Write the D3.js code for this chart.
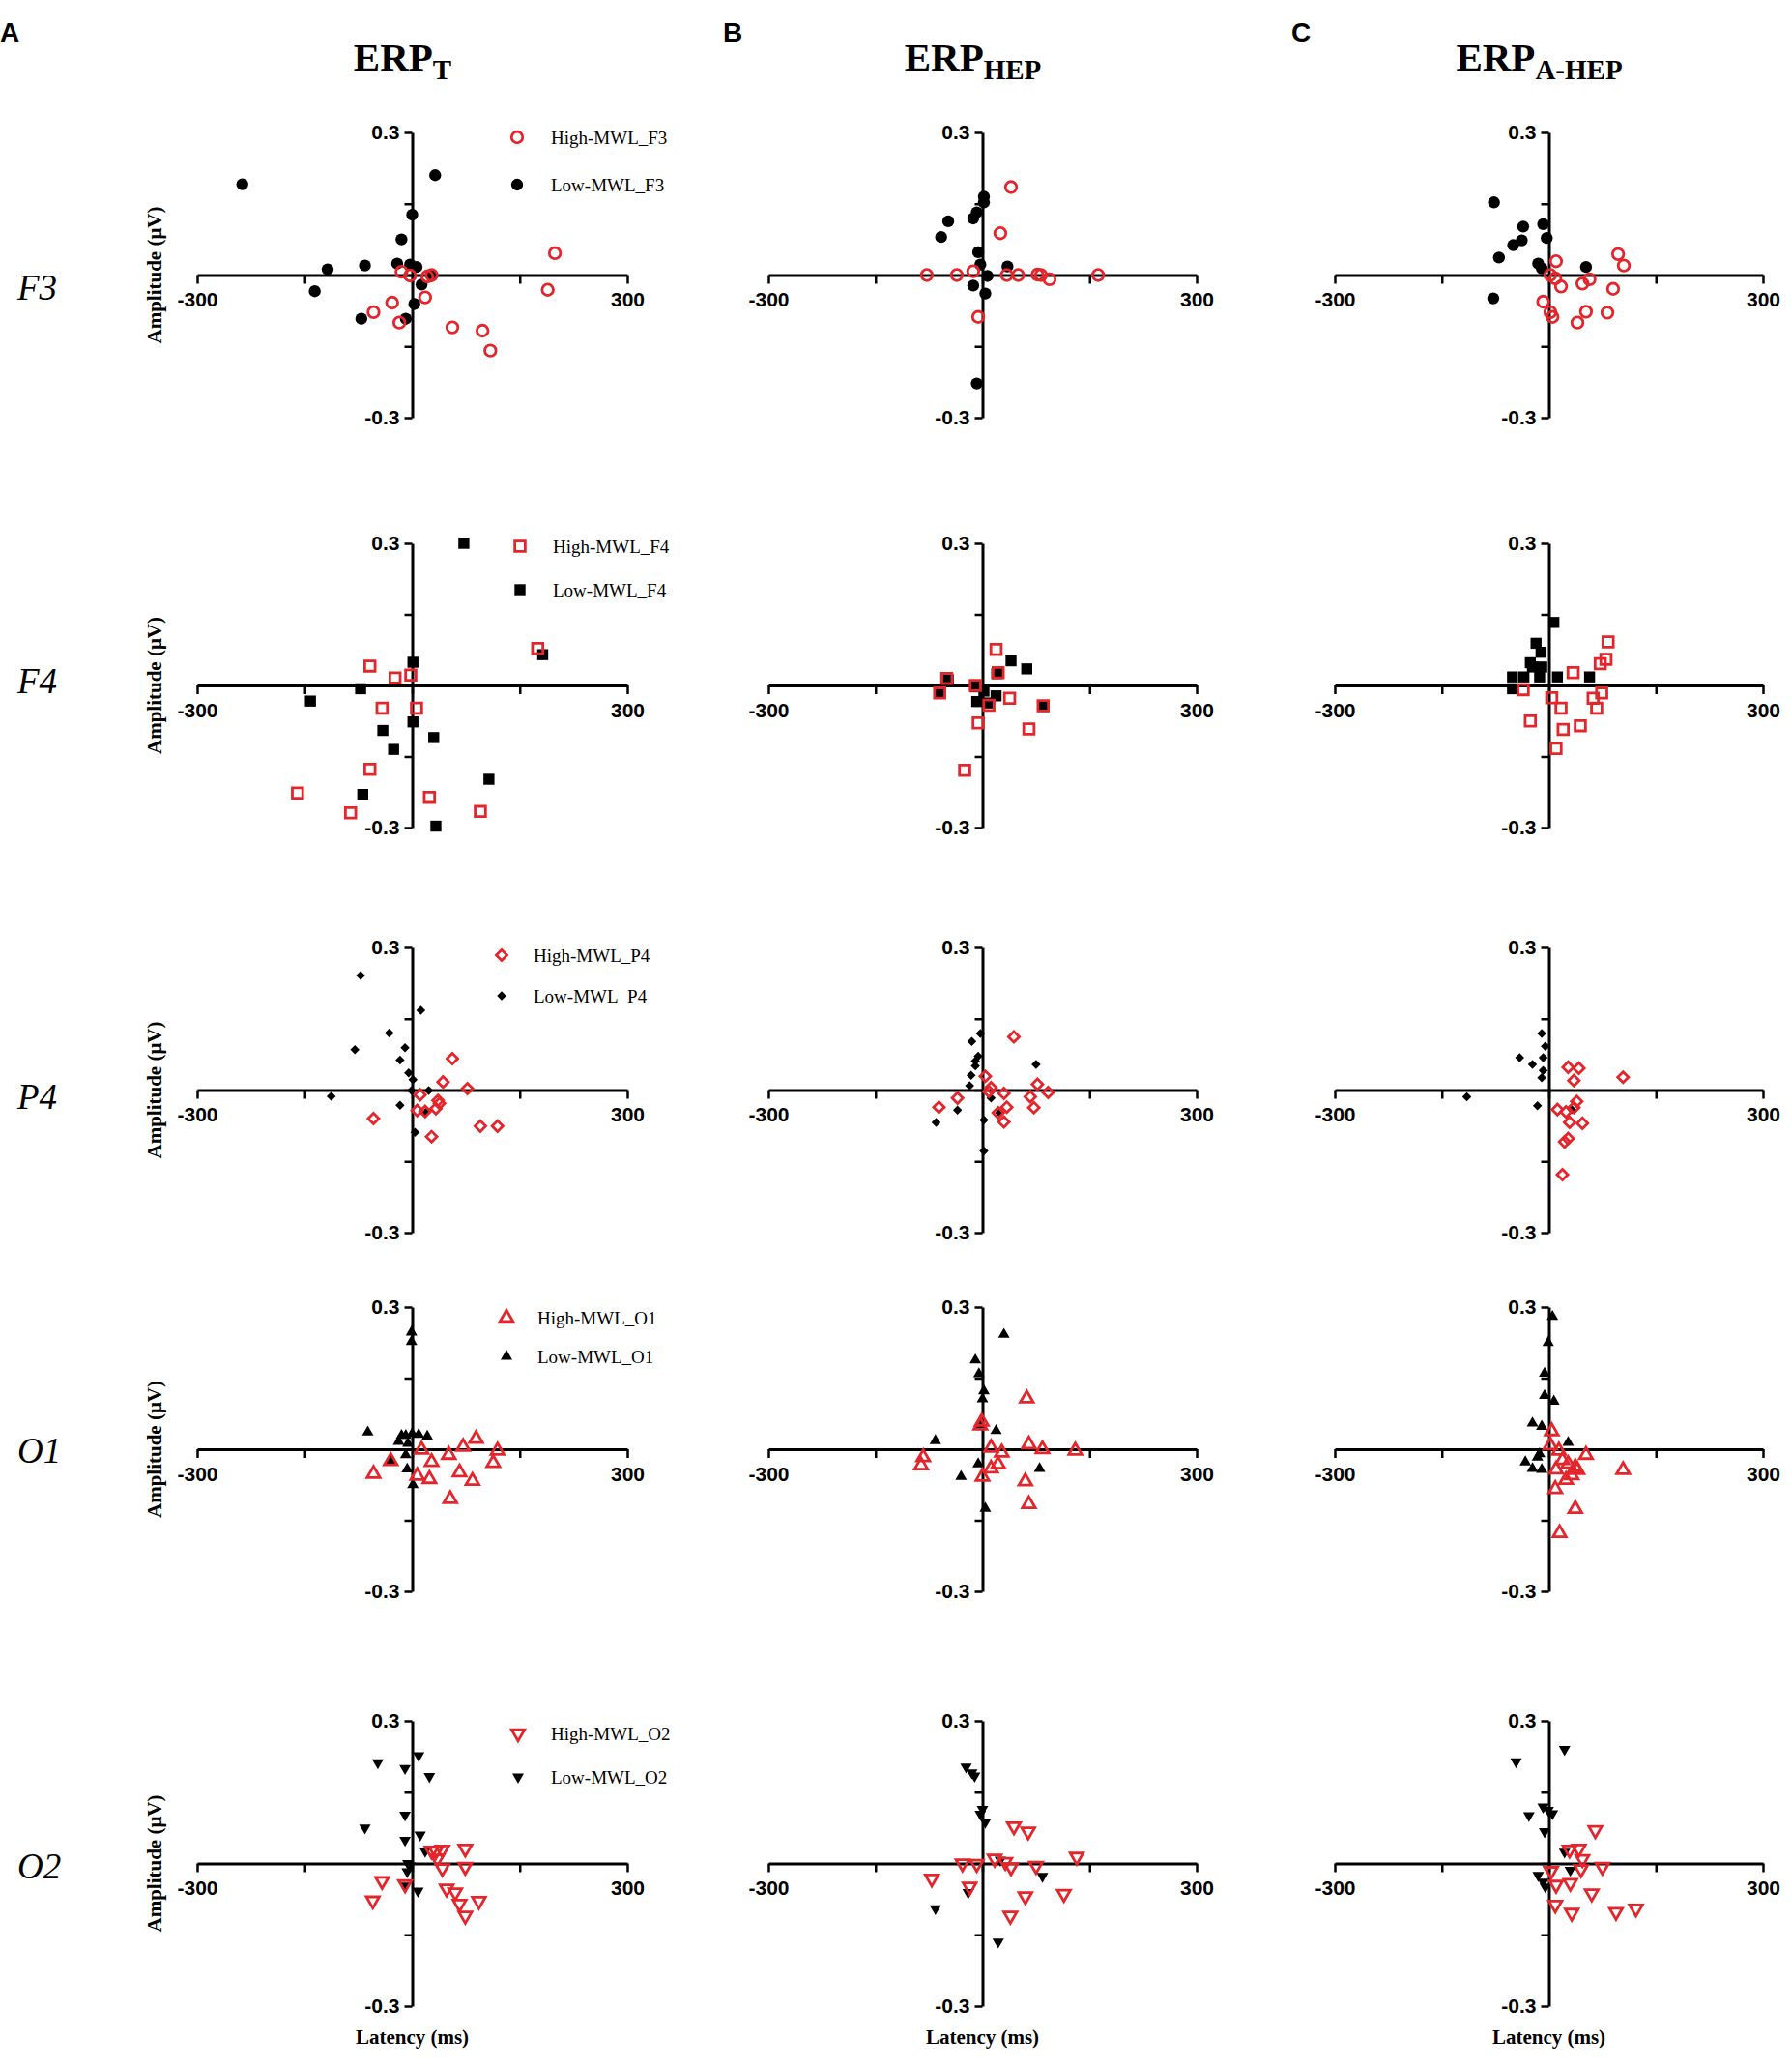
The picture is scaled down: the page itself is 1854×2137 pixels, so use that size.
<!DOCTYPE html>
<html>
<head>
<meta charset="utf-8">
<script src="https://cdn.jsdelivr.net/npm/d3@7"></script>
<style>
  body { margin: 0; background: #fff; }
  svg { display: block; }
</style>
</head>
<body>
<script>
// electrodes (rows) and ERP types (columns)
var electrodes = ["F3", "F4", "P4", "O1", "O2"];
var erpTypes = ["T", "HEP", "A-HEP"];
var panelLetters = ["A", "B", "C"];
var xTicks = [-300, -150, 0, 150, 300];
var yTicks = [-0.3, -0.15, 0, 0.15, 0.3];
var xTickLabels = [-300, 300];
var yTickLabels = [0.3, -0.3];

// [latency (ms), amplitude (uV)]
var F3_T_high = [[199,0.046],[189,-0.031],[-15,0.007],[-3,-0.001],[21,-0.003],[27,0],[18,-0.047],[-28,-0.058],[-54,-0.078],[-18,-0.1],[56,-0.11],[98,-0.117],[109,-0.159]];
var F3_T_low = [[-237,0.191],[32,0.21],[0,0.127],[-15,0.075],[-118,0.012],[-66,0.02],[-21,0.024],[-3,0.022],[6,0.017],[-136,-0.034],[-71,-0.092],[-9,-0.092],[3,-0.061],[13,-0.02],[27,-0.002]];
var F3_HEP_high = [[40,0.185],[25,0.088],[-78,0],[-36,0],[-13,0.008],[34,0],[50,0],[77,0.001],[82,0],[94,-0.009],[162,0],[-6,-0.088]];
var F3_HEP_low = [[2,0.165],[2,0.153],[-8,0.132],[-13,0.119],[-48,0.113],[-58,0.08],[-6,0.048],[-3,0.022],[35,0.018],[7,-0.002],[-13,-0.022],[4,-0.039],[-8,-0.228]];
var F3_AHEP_high = [[10,0.029],[97,0.044],[105,0.02],[2,0],[9,-0.007],[17,-0.024],[47,-0.018],[57,-0.009],[90,-0.029],[-8,-0.056],[2,-0.078],[5,-0.088],[52,-0.077],[82,-0.079],[40,-0.1]];
var F3_AHEP_low = [[-77,0.153],[-36,0.102],[-8,0.107],[-3,0.078],[-38,0.073],[-50,0.063],[-70,0.037],[-15,0.024],[-10,0.014],[52,0.017],[-78,-0.049]];

var F4_T_high = [[175,0.078],[-59,0.041],[-24,0.016],[-2,0.022],[-42,-0.048],[6,-0.048],[-59,-0.177],[-160,-0.227],[24,-0.236],[-86,-0.269],[95,-0.266]];
var F4_T_low = [[72,0.3],[182,0.065],[1,0.049],[-72,-0.007],[-142,-0.033],[1,-0.077],[-41,-0.095],[30,-0.11],[-26,-0.135],[107,-0.198],[-69,-0.23],[33,-0.297]];
var F4_HEP_high = [[19,0.076],[-50,0.015],[-60,-0.016],[-10,0],[22,0.027],[38,-0.027],[9,-0.042],[-6,-0.079],[65,-0.092],[-25,-0.179],[85,-0.043]];
var F4_HEP_low = [[-48,0.012],[-60,-0.017],[-10,-0.003],[-8,-0.034],[20,0.025],[40,0.052],[62,0.035],[7,-0.037],[19,-0.022],[85,-0.044],[2,-0.012]];
var F4_AHEP_high = [[83,0.092],[80,0.055],[72,0.046],[34,0.027],[-36,-0.009],[4,-0.026],[17,-0.048],[62,-0.027],[74,-0.016],[67,-0.048],[-26,-0.075],[20,-0.093],[44,-0.085],[10,-0.133]];
var F4_AHEP_low = [[7,0.133],[-18,0.089],[-11,0.07],[-26,0.048],[-10,0.039],[-51,0.018],[-51,-0.007],[-35,0.018],[-13,0.018],[12,0.018],[57,0.018],[-23,0.039]];

var P4_T_high = [[56,0.066],[43,0.017],[77,0.003],[11,-0.01],[36,-0.022],[38,-0.028],[33,-0.039],[7,-0.043],[18,-0.045],[-54,-0.06],[95,-0.076],[119,-0.076],[27,-0.098]];
var P4_T_low = [[-72,0.241],[12,0.168],[-32,0.12],[-80,0.085],[-10,0.089],[-17,0.063],[-5,0.036],[1,0.022],[-1,-0.001],[23,-0.001],[-113,-0.013],[-17,-0.032],[19,-0.047],[4,-0.089]];
var P4_HEP_high = [[44,0.112],[4,0.029],[12,0.005],[9,-0.003],[30,-0.007],[77,0.012],[92,-0.005],[67,-0.014],[72,-0.037],[-35,-0.017],[-61,-0.036],[34,-0.036],[22,-0.048],[30,-0.067]];
var P4_HEP_low = [[-3,0.119],[-15,0.102],[-10,0.061],[-6,0.071],[-10,0.051],[75,0.054],[-16,0.031],[-18,0.009],[12,-0.017],[-35,-0.042],[-65,-0.068],[2,-0.063],[24,-0.048],[2,-0.128]];
var P4_AHEP_high = [[27,0.048],[42,0.046],[104,0.027],[35,0.02],[39,-0.024],[12,-0.041],[24,-0.046],[35,-0.037],[29,-0.068],[47,-0.07],[27,-0.102],[22,-0.109],[19,-0.178]];
var P4_AHEP_low = [[-10,0.119],[-5,0.092],[-41,0.068],[-8,0.068],[-23,0.054],[-8,0.041],[-10,0.026],[-115,-0.014],[-16,-0.033],[32,-0.041]];

var O1_T_high = [[89,0.022],[71,0.005],[13,-0.001],[119,-0.003],[51,-0.012],[27,-0.027],[-30,-0.025],[113,-0.029],[-54,-0.052],[7,-0.056],[24,-0.063],[66,-0.049],[84,-0.067],[53,-0.105]];
var O1_T_low = [[-1,0.247],[-1,0.227],[-62,0.036],[-15,0.029],[-9,0.029],[0,0.033],[9,0.031],[21,0.027],[-19,0.016],[-6,0.012],[-9,-0.012],[-30,-0.025],[-7,-0.042],[1,-0.075]];
var O1_HEP_high = [[62,0.107],[-1,0.058],[-3,0.05],[-83,-0.017],[-86,-0.034],[12,0.003],[27,-0.007],[65,0.01],[84,0],[130,-0.003],[22,-0.032],[12,-0.041],[0,-0.058],[60,-0.068],[65,-0.116]];
var O1_HEP_low = [[30,0.242],[-10,0.188],[-5,0.159],[2,0.123],[0,0.106],[-3,0.051],[19,0.039],[-66,0.018],[-6,-0.031],[-30,-0.058],[80,-0.041],[4,-0.125]];
var O1_AHEP_high = [[4,0.038],[2,0.008],[14,-0.003],[52,-0.012],[19,-0.023],[27,-0.031],[37,-0.038],[10,-0.043],[40,-0.044],[104,-0.044],[32,-0.055],[24,-0.065],[9,-0.084],[37,-0.126],[15,-0.177]];
var O1_AHEP_low = [[5,0.28],[-1,0.225],[-6,0.16],[-6,0.113],[7,0.101],[-23,0.055],[-10,0.048],[27,0.014],[-13,-0.01],[-16,-0.017],[-33,-0.027],[-23,-0.041],[-10,-0.043]];

var O2_T_high = [[27,0.027],[33,0.026],[42,0.029],[74,0.031],[35,0.01],[42,-0.01],[74,-0.007],[-42,-0.037],[-10,-0.044],[48,-0.053],[60,-0.061],[93,-0.079],[-55,-0.078],[66,-0.085],[74,-0.11]];
var O2_T_low = [[9,0.227],[-48,0.212],[-10,0.2],[24,0.183],[-10,0.102],[-66,0.075],[11,0.06],[-10,0.049],[18,0.026],[-6,0],[-3,-0.005],[-7,-0.017],[8,-0.058],[-9,-0.047]];
var O2_HEP_high = [[44,0.078],[64,0.067],[132,0.014],[17,0.01],[32,0.003],[-28,0],[-8,-0.001],[40,-0.008],[75,-0.005],[-71,-0.032],[-18,-0.049],[60,-0.069],[114,-0.064],[39,-0.11]];
var O2_HEP_low = [[-23,0.203],[-15,0.191],[-11,0.184],[0,0.114],[-3,0.104],[4,0.087],[25,0.007],[84,-0.027],[-20,-0.061],[-66,-0.095],[22,-0.165]];
var O2_AHEP_high = [[65,0.07],[29,0.029],[42,0.031],[47,0.009],[45,-0.012],[75,-0.007],[3,-0.016],[10,-0.045],[30,-0.041],[60,-0.063],[9,-0.087],[32,-0.104],[94,-0.102],[122,-0.095]];
var O2_AHEP_low = [[22,0.24],[-46,0.214],[-8,0.119],[-1,0.112],[5,0.105],[-28,0.101],[-6,0.067],[22,0.024],[30,-0.014],[-15,-0.025],[-8,-0.039],[-5,-0.049]];

var seriesData = {
  F3: [[F3_T_high, F3_T_low], [F3_HEP_high, F3_HEP_low], [F3_AHEP_high, F3_AHEP_low]],
  F4: [[F4_T_high, F4_T_low], [F4_HEP_high, F4_HEP_low], [F4_AHEP_high, F4_AHEP_low]],
  P4: [[P4_T_high, P4_T_low], [P4_HEP_high, P4_HEP_low], [P4_AHEP_high, P4_AHEP_low]],
  O1: [[O1_T_high, O1_T_low], [O1_HEP_high, O1_HEP_low], [O1_AHEP_high, O1_AHEP_low]],
  O2: [[O2_T_high, O2_T_low], [O2_HEP_high, O2_HEP_low], [O2_AHEP_high, O2_AHEP_low]]
};

var W = 1854, H = 2137;
var RED = "#e3262c";

// layout
var cols = [{x0: 204, x1: 649}, {x0: 795, x1: 1238}, {x0: 1381, x1: 1824}];
var rows = [{y0: 137, y1: 432}, {y0: 562, y1: 856}, {y0: 980, y1: 1275}, {y0: 1352, y1: 1646}, {y0: 1780, y1: 2075}];
var rowLabelDy = [25, 8, 19, 14, 15];
var legendPos = [
  {mx: 535, tx: 570, y1: 142, y2: 191},
  {mx: 538, tx: 572, y1: 565, y2: 610},
  {mx: 519, tx: 552, y1: 988, y2: 1030},
  {mx: 524, tx: 556, y1: 1363, y2: 1403},
  {mx: 536, tx: 570, y1: 1793, y2: 1838}
];

// marker per electrode
var shapes = {
  F3: {type: d3.symbolCircle, hi: 105, lo: 120, rot: 0},
  F4: {type: d3.symbolSquare, hi: 115, lo: 130, rot: 0},
  P4: {type: d3.symbolSquare, hi: 62, lo: 45, rot: 45},
  O1: {type: d3.symbolTriangle, hi: 78, lo: 62, rot: 0},
  O2: {type: d3.symbolTriangle, hi: 78, lo: 62, rot: 180}
};

var svg = d3.select("body").append("svg")
  .attr("width", W)
  .attr("height", H);

// panel letters
panelLetters.forEach(function(l, i) {
  svg.append("text")
    .attr("x", [0, 748, 1336][i])
    .attr("y", 43)
    .attr("font-family", "Liberation Sans, Arial, sans-serif")
    .attr("font-weight", "bold")
    .attr("font-size", 28)
    .text(l);
});

// column titles
erpTypes.forEach(function(t, i) {
  var x = d3.scaleLinear().domain([-300, 300]).range([cols[i].x0, cols[i].x1]);
  var title = svg.append("text")
    .attr("x", x(0) - 10)
    .attr("y", 73)
    .attr("text-anchor", "middle")
    .attr("font-family", "Liberation Serif, Times New Roman, serif")
    .attr("font-weight", "bold")
    .attr("font-size", 41);
  title.append("tspan").text("ERP");
  title.append("tspan").attr("font-size", 29).attr("dy", 9).text(t);
});

function drawMarks(g, data, shape, isHigh, sx, sy) {
  var sym = d3.symbol().type(shape.type).size(isHigh ? shape.hi : shape.lo);
  g.selectAll(null)
    .data(data)
    .enter()
    .append("path")
    .attr("d", sym)
    .attr("transform", function(d) {
      return "translate(" + sx(d[0]) + "," + sy(d[1]) + ") rotate(" + shape.rot + ")";
    })
    .attr("fill", isHigh ? "none" : "#000")
    .attr("stroke", isHigh ? RED : "none")
    .attr("stroke-width", isHigh ? 2.8 : 0);
}

electrodes.forEach(function(el, r) {
  var row = rows[r];
  var y = d3.scaleLinear().domain([-0.3, 0.3]).range([row.y1, row.y0]);

  // row label
  svg.append("text")
    .attr("x", 18)
    .attr("y", y(0) + rowLabelDy[r])
    .attr("font-family", "Liberation Serif, Times New Roman, serif")
    .attr("font-style", "italic")
    .attr("font-size", 37)
    .text(el);

  // y axis title
  svg.append("text")
    .attr("transform", "translate(167," + y(0) + ") rotate(-90)")
    .attr("text-anchor", "middle")
    .attr("font-family", "Liberation Serif, Times New Roman, serif")
    .attr("font-weight", "bold")
    .attr("font-size", 21)
    .text("Amplitude (\u03bcV)");

  erpTypes.forEach(function(t, c) {
    var x = d3.scaleLinear().domain([-300, 300]).range([cols[c].x0, cols[c].x1]);
    var g = svg.append("g");

    var xAxis = d3.axisBottom(x)
      .tickValues(xTicks)
      .tickSizeInner(9)
      .tickSizeOuter(0)
      .tickPadding(9)
      .tickFormat(function(d) { return xTickLabels.indexOf(d) >= 0 ? d : ""; });
    var yAxis = d3.axisLeft(y)
      .tickValues(yTicks)
      .tickSizeInner(8)
      .tickSizeOuter(0)
      .tickPadding(5)
      .tickFormat(function(d) { return yTickLabels.indexOf(d) >= 0 ? d : ""; });

    var gx = g.append("g").attr("transform", "translate(0," + y(0) + ")").call(xAxis);
    var gy = g.append("g").attr("transform", "translate(" + x(0) + ",0)").call(yAxis);
    [gx, gy].forEach(function(a) {
      a.select(".domain").attr("stroke-width", 3);
      a.selectAll(".tick line").attr("stroke-width", 2.5);
      a.selectAll("text")
        .attr("font-family", "Liberation Sans, Arial, sans-serif")
        .attr("font-weight", "bold")
        .attr("font-size", 21)
        .attr("fill", "#000");
    });

    var pair = seriesData[el][c];
    drawMarks(g, pair[1], shapes[el], false, x, y);
    drawMarks(g, pair[0], shapes[el], true, x, y);

    if (r === electrodes.length - 1) {
      svg.append("text")
        .attr("x", x(0))
        .attr("y", 2114)
        .attr("text-anchor", "middle")
        .attr("font-family", "Liberation Serif, Times New Roman, serif")
        .attr("font-weight", "bold")
        .attr("font-size", 21)
        .text("Latency (ms)");
    }
  });

  // legend (first column only)
  var lp = legendPos[r];
  var lg = svg.append("g");
  [["High-MWL_" + el, true, lp.y1], ["Low-MWL_" + el, false, lp.y2]].forEach(function(item) {
    var shape = shapes[el];
    var sym = d3.symbol().type(shape.type).size(item[1] ? shape.hi : shape.lo);
    lg.append("path")
      .attr("d", sym)
      .attr("transform", "translate(" + lp.mx + "," + item[2] + ") rotate(" + shape.rot + ")")
      .attr("fill", item[1] ? "none" : "#000")
      .attr("stroke", item[1] ? RED : "none")
      .attr("stroke-width", item[1] ? 2.8 : 0);
    lg.append("text")
      .attr("x", lp.tx)
      .attr("y", item[2])
      .attr("dy", "0.35em")
      .attr("font-family", "Liberation Serif, Times New Roman, serif")
      .attr("font-size", 19)
      .text(item[0]);
  });
});
</script>
</body>
</html>
